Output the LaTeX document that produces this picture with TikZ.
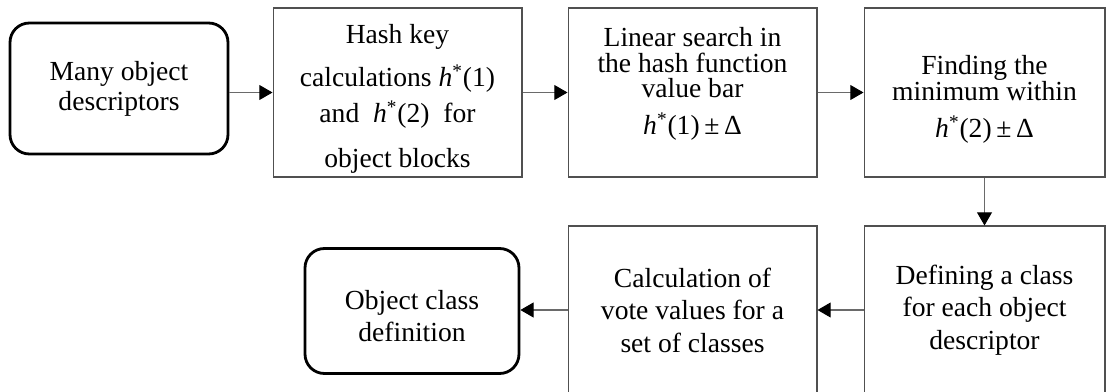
\documentclass[tikz,border=0pt]{standalone}
\usepackage{fontspec}
\setmainfont{Liberation Serif}
\usepackage{xcolor}
\usepackage{tikz}
\usetikzlibrary{arrows.meta,positioning}
\definecolor{BoxLine}{HTML}{505050}
\definecolor{ArrLine}{HTML}{6A6A6A}
\newcommand{\hstar}[1]{\textit{h}\textsuperscript{*}(#1)}
% text block moved up/down inside a fixed box
\newcommand{\shifted}[3][4.6cm]{\raisebox{#2}[\height][\depth]{\parbox{#1}{\centering #3}}}

\begin{document}
\begin{tikzpicture}[
  x=0.02cm,y=-0.02cm,
  font=\fontsize{15.7}{17}\selectfont,
  term/.style={rectangle,rounded corners=11pt,draw=black,line width=1.6pt,minimum width=4.36cm,minimum height=2.62cm,align=center,inner sep=2pt},
  proc/.style={rectangle,draw=BoxLine,line width=0.6pt,minimum width=4.98cm,minimum height=3.38cm,align=center,inner sep=2pt},
  flow/.style={-{Triangle[length=7.5pt,width=8.5pt,color=black]},line width=0.6pt,draw=ArrLine}
]
\useasboundingbox (0,0) rectangle (1106,392);

% top row
\node[term] (descr) at (119,88.5) {Many object\\descriptors};
\node[proc] (hashkey) at (397.5,92.5) {\shifted{-0.12cm}{Hash key\\[7.5pt]calculations \hstar{1}\\[3.5pt]and\enspace\hstar{2}\enspace for\\[8.5pt]object blocks}};
\node[proc] (search) at (692.5,92.5) {\shifted{0.17cm}{\fontsize{15.7}{14.5}\selectfont Linear search in\\the hash function\\value bar\\[6.3pt]\hstar{1}\,±\,Δ}};
\node[proc,minimum width=4.82cm] (minimum) at (984.5,92.5) {\shifted{-0.14cm}{\fontsize{15.7}{14.5}\selectfont Finding the\\minimum within\\[6.8pt]\hstar{2}\,±\,Δ}};

% bottom row
\node[proc,minimum width=4.82cm,minimum height=3.36cm,font=\fontsize{15.7}{18.5}\selectfont] (classdef) at (984.5,310) {Defining a class\\for each object\\descriptor};
\node[proc,minimum height=3.36cm,font=\fontsize{15.7}{18.5}\selectfont] (votes) at (692.5,310) {Calculation of\\vote values for a\\set of classes};
\node[term,minimum width=4.28cm,minimum height=2.5cm] (result) at (412,311) {\shifted[3.6cm]{-0.1cm}{\fontsize{15.7}{18.2}\selectfont Object class\\definition}};

\draw[flow] (descr.east |- hashkey.west) -- (hashkey.west);
\draw[flow] (hashkey.east) -- (search.west);
\draw[flow] (search.east) -- (minimum.west);
\draw[flow] (minimum.south) -- (classdef.north);
\draw[flow] (classdef.west) -- (votes.east);
\draw[flow] (votes.west) -- (votes.west -| result.east);
\end{tikzpicture}
\end{document}
